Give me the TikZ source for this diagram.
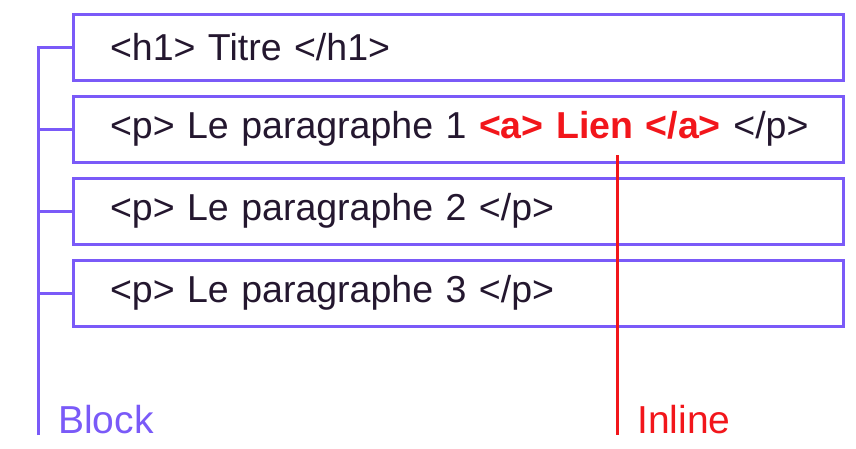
\documentclass[tikz,border=0pt]{standalone}
\usepackage{fontspec}
\setmainfont{Liberation Sans}
\definecolor{blockc}{HTML}{7A5AF8}
\definecolor{inlinec}{HTML}{F2161B}
\definecolor{textc}{HTML}{24172F}
\begin{document}
\begin{tikzpicture}[x=1pt,y=-1pt,
  tagbox/.style={draw=blockc, line width=3pt, anchor=north west, rectangle,
    minimum height=66pt, text width=696pt, inner xsep=37pt, inner ysep=0pt,
    outer sep=0pt, align=left, text=textc, font=\fontsize{37.5}{40}\selectfont},
  blockline/.style={draw=blockc, line width=3pt},
  inlineline/.style={draw=inlinec, line width=3pt},
  lbl/.style={anchor=base west, inner sep=0pt, font=\fontsize{39}{42}\selectfont}]
\useasboundingbox (0,0) rectangle (856,448);
% the four block elements
\node[tagbox] (h1) at (73,14) {\mbox{<h1> Titre </h1>}};
\node[tagbox] (p1) at (73,96) {\mbox{<p> Le paragraphe 1 {\color{inlinec}\bfseries <a> Lien </a>} </p>}};
\node[tagbox] (p2) at (73,178) {\mbox{<p> Le paragraphe 2 </p>}};
\node[tagbox] (p3) at (73,260) {\mbox{<p> Le paragraphe 3 </p>}};
% bracket grouping the block elements
\coordinate (bbot) at (38,435);
\draw[blockline] (bbot) -- (h1.west -| bbot) -- (h1.west);
\draw[blockline] (p1.west) -- (p1.west -| bbot);
\draw[blockline] (p2.west) -- (p2.west -| bbot);
\draw[blockline] (p3.west) -- (p3.west -| bbot);
\node[lbl, text=blockc] (block) at (58,433) {Block};
% line marking the inline link
\coordinate (itop) at (617,155);
\coordinate (ibot) at (617,435);
\draw[inlineline] (itop) -- (ibot);
\node[lbl, text=inlinec] (inline) at (637,433) {Inline};
\end{tikzpicture}
\end{document}
